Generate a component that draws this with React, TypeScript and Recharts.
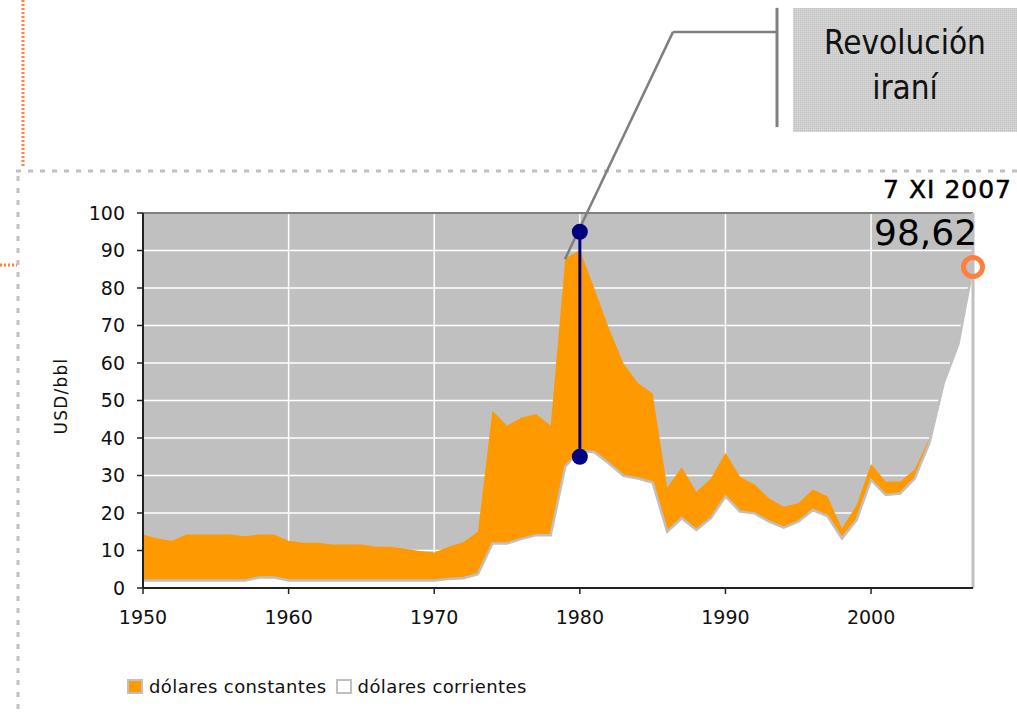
import React from 'react';
import {
  ComposedChart,
  Area,
  XAxis,
  YAxis,
  CartesianGrid,
  ReferenceLine,
  ReferenceDot,
} from 'recharts';

// oil price per barrel, 1950 - 2007
const years = [
  1950, 1951, 1952, 1953, 1954, 1955, 1956, 1957, 1958, 1959,
  1960, 1961, 1962, 1963, 1964, 1965, 1966, 1967, 1968, 1969,
  1970, 1971, 1972, 1973, 1974, 1975, 1976, 1977, 1978, 1979,
  1980, 1981, 1982, 1983, 1984, 1985, 1986, 1987, 1988, 1989,
  1990, 1991, 1992, 1993, 1994, 1995, 1996, 1997, 1998, 1999,
  2000, 2001, 2002, 2003, 2004, 2005, 2006, 2007,
];

// dólares constantes
const constantUsd = [
  14.3, 13.2, 12.6, 14.3, 14.3, 14.3, 14.3, 13.8, 14.3, 14.3,
  12.6, 12.1, 12.1, 11.6, 11.6, 11.6, 11.0, 11.0, 10.5, 9.9,
  9.5, 11.0, 12.2, 15.0, 47.3, 43.3, 45.5, 46.4, 43.3, 87.9,
  90.1, 79.9, 69.2, 59.9, 54.6, 51.9, 26.8, 32.2, 25.7, 29.2,
  36.1, 29.7, 27.6, 23.9, 21.7, 22.6, 26.3, 24.5, 15.9, 22.1,
  33.1, 28.4, 28.4, 31.6, 39.9, 55.5, 65.2, 86.0,
];

// dólares corrientes
const currentUsd = [
  2.0, 2.0, 2.0, 2.0, 2.0, 2.0, 2.0, 2.0, 2.8, 2.8,
  2.0, 2.0, 2.0, 2.0, 2.0, 2.0, 2.0, 2.0, 2.0, 2.0,
  2.0, 2.4, 2.6, 3.7, 11.9, 11.9, 13.1, 14.1, 14.1, 32.4,
  36.6, 36.2, 33.2, 29.9, 29.2, 28.1, 15.0, 18.6, 15.5, 18.6,
  24.4, 20.4, 19.9, 17.7, 16.1, 17.7, 20.8, 19.2, 13.2, 18.1,
  28.8, 24.8, 25.2, 29.2, 38.6, 54.8, 65.1, 85.6,
];

const xTicks = [1950, 1960, 1970, 1980, 1990, 2000];
const yTicks = [0, 10, 20, 30, 40, 50, 60, 70, 80, 90, 100];

// annotation: 1980 jump (current -> constant) and callout leader
const iranYear = 1980;
const iranRange = [35, 95];
const calloutPath = [
  { x: 1978.98, y: 87.7 },
  { x: 1986.4, y: 148.3 },
  { x: 1993.54, y: 148.3 },
];
const calloutBar = [
  { x: 1993.54, y: 154.7 },
  { x: 1993.54, y: 122.9 },
];
const lastYear = 2007;
const lastValue = 85.6;

const data = years.map((year, i) => ({
  year,
  constant: constantUsd[i],
  current: currentUsd[i],
}));

const FONT = '"DejaVu Sans", Verdana, sans-serif';

export default function App() {
  return (
    <div style={{ position: 'absolute', left: 0, top: 0, width: 1017, height: 715, background: '#fff', fontFamily: FONT, overflow: 'hidden' }}>
      {/* slide decoration lines */}
      <svg width={1017} height={715} style={{ position: 'absolute', left: 0, top: 0 }}>
        <line x1={23} y1={0} x2={23} y2={166} stroke="#ff7f3f" strokeWidth={3} strokeDasharray="2 2" />
        <line x1={0} y1={265} x2={17} y2={265} stroke="#ff7f3f" strokeWidth={3} strokeDasharray="2 2" />
        <line x1={16} y1={171} x2={1017} y2={171} stroke="#c0c0c0" strokeWidth={3} strokeDasharray="5 7" />
        <line x1={18} y1={176} x2={18} y2={715} stroke="#c0c0c0" strokeWidth={3} strokeDasharray="5 7" />
        <text
          transform="translate(67,396) rotate(-90)"
          textAnchor="middle"
          fontSize={17}
          letterSpacing={1.2}
          fill="#111"
          fontFamily={FONT}
        >
          USD/bbl
        </text>
      </svg>

      <div style={{ position: 'absolute', left: 0, top: 0 }}>
        <ComposedChart
          width={1017}
          height={715}
          data={data}
          margin={{ top: 213, right: 44, bottom: 87, left: 83 }}
        >
          <CartesianGrid fill="#c0c0c0" fillOpacity={1} stroke="#ffffff" strokeWidth={1.5} />
          <Area
            type="linear"
            dataKey="constant"
            fill="#ff9900"
            fillOpacity={1}
            stroke="none"
            isAnimationActive={false}
          />
          <Area
            type="linear"
            dataKey="current"
            fill="#ffffff"
            fillOpacity={1}
            stroke="#c0c0c0"
            strokeWidth={2.5}
            isAnimationActive={false}
          />
          <ReferenceLine y={100} stroke="#808080" strokeWidth={2} />
          <ReferenceLine x={lastYear} stroke="#c0c0c0" strokeWidth={3} />
          <XAxis
            dataKey="year"
            type="number"
            domain={[1950, 2007]}
            ticks={xTicks}
            height={40}
            tickSize={6}
            tickMargin={17}
            axisLine={{ stroke: '#222', strokeWidth: 2 }}
            tickLine={{ stroke: '#222', strokeWidth: 1.5 }}
            tick={{ fill: '#111', fontSize: 19, fontFamily: FONT }}
          />
          <YAxis
            type="number"
            domain={[0, 100]}
            ticks={yTicks}
            width={60}
            tickSize={6}
            tickMargin={12}
            axisLine={{ stroke: '#222', strokeWidth: 2 }}
            tickLine={{ stroke: '#222', strokeWidth: 1.5 }}
            tick={{ fill: '#111', fontSize: 19, fontFamily: FONT }}
          />
          <ReferenceLine
            segment={[calloutPath[0], calloutPath[1]]}
            stroke="#7f7f7f"
            strokeWidth={2.5}
            ifOverflow="visible"
          />
          <ReferenceLine
            segment={[calloutPath[1], calloutPath[2]]}
            stroke="#7f7f7f"
            strokeWidth={2.5}
            ifOverflow="visible"
          />
          <ReferenceLine
            segment={calloutBar}
            stroke="#7f7f7f"
            strokeWidth={3}
            ifOverflow="visible"
          />
          <ReferenceLine
            segment={[{ x: iranYear, y: iranRange[0] }, { x: iranYear, y: iranRange[1] }]}
            stroke="#000080"
            strokeWidth={3}
          />
          <ReferenceDot x={iranYear} y={iranRange[0]} r={8} fill="#000080" stroke="none" />
          <ReferenceDot x={iranYear} y={iranRange[1]} r={8} fill="#000080" stroke="none" />
          <ReferenceDot
            x={lastYear}
            y={lastValue}
            r={9.5}
            fill="none"
            stroke="#ff7f3f"
            strokeWidth={5}
            ifOverflow="visible"
          />
        </ComposedChart>
      </div>

      {/* callout box */}
      <div
        style={{
          position: 'absolute',
          left: 793,
          top: 8,
          width: 224,
          height: 124,
          background:
            'repeating-linear-gradient(0deg, rgba(255,255,255,0.18) 0 1px, transparent 1px 2px), repeating-linear-gradient(90deg, rgba(255,255,255,0.18) 0 1px, transparent 1px 2px), #c4c4c4',
          textAlign: 'center',
          fontFamily: '"DejaVu Sans Condensed", "DejaVu Sans", sans-serif',
          fontSize: 33,
          lineHeight: '45px',
          color: '#111',
          paddingTop: 12,
          boxSizing: 'border-box',
        }}
      >
        Revolución
        <br />
        iraní
      </div>

      {/* latest value */}
      <div style={{ position: 'absolute', right: 5, top: 175, fontSize: 25, letterSpacing: 1, color: '#000', whiteSpace: 'nowrap', WebkitTextStroke: '0.5px #000' }}>
        7 XI 2007
      </div>
      <div style={{ position: 'absolute', left: 874, top: 212, fontSize: 36, color: '#000', whiteSpace: 'nowrap' }}>
        98,62
      </div>

      {/* legend */}
      <div style={{ position: 'absolute', left: 127, top: 676, display: 'flex', alignItems: 'center', fontSize: 18, letterSpacing: 0.4, color: '#111' }}>
        <span style={{ display: 'inline-block', width: 16, height: 15, background: '#ff9900', border: '2px solid #c0c0c0', boxSizing: 'border-box', marginRight: 6 }} />
        <span>dólares constantes</span>
        <span style={{ display: 'inline-block', width: 16, height: 15, background: '#ffffff', border: '2px solid #c0c0c0', boxSizing: 'border-box', marginLeft: 9, marginRight: 6 }} />
        <span>dólares corrientes</span>
      </div>
    </div>
  );
}
